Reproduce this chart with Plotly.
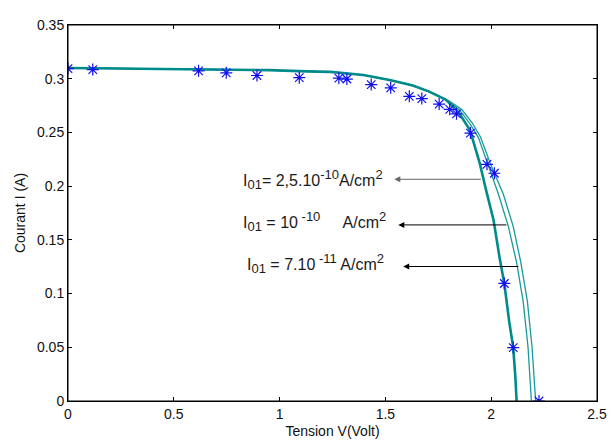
import plotly.graph_objects as go

# Measured points (blue asterisks)
meas_v = [0.0, 0.117, 0.617, 0.748, 0.893, 1.093, 1.28, 1.318, 1.433, 1.525, 1.613,
          1.672, 1.754, 1.804, 1.836, 1.902, 1.98, 2.015, 2.062, 2.104, 2.226]
meas_i = [0.3094, 0.3085, 0.3073, 0.3055, 0.303, 0.301, 0.3006, 0.2997, 0.2945, 0.2915,
          0.2836, 0.2815, 0.2764, 0.2715, 0.2673, 0.2494, 0.2203, 0.2120, 0.1094, 0.0497, 0.0]

# Common (overlapping) part of the three model curves
common_v = [0.0, 0.5, 0.95, 1.13, 1.24, 1.396, 1.52, 1.63, 1.707, 1.785]
common_i = [0.3100, 0.3093, 0.3080, 0.3068, 0.3064, 0.3034, 0.2988, 0.2936, 0.2880, 0.2806]

# Tails of each curve
thick_v = [1.847, 1.90, 1.945, 1.975, 2.011, 2.040, 2.062, 2.085, 2.104, 2.114, 2.12]
thick_i = [0.2685, 0.2520, 0.2220, 0.1970, 0.1685, 0.1330, 0.1094, 0.0740, 0.0497, 0.0230, 0.0]

inner_v = [1.80, 1.85, 1.90, 1.94, 1.985, 2.034, 2.081, 2.12, 2.151, 2.174, 2.19]
inner_i = [0.2790, 0.2710, 0.2580, 0.2450, 0.2200, 0.1927, 0.1625, 0.1290, 0.0927, 0.0503, 0.0]

outer_v = [1.80, 1.86, 1.91, 1.95, 1.998, 2.057, 2.104, 2.14, 2.171, 2.193, 2.21]
outer_i = [0.2795, 0.2715, 0.2590, 0.2455, 0.2200, 0.1927, 0.1625, 0.1290, 0.0927, 0.0503, 0.0]

x_ticks = [0, 0.5, 1, 1.5, 2, 2.5]
y_ticks = [0, 0.05, 0.1, 0.15, 0.2, 0.25, 0.3, 0.35]

S = "<span style='font-size:13px'>{}</span>"
labels = [
    "I<sub>" + S.format("01") + "</sub>= 2,5.10<sup>" + S.format("-10") + "</sup>A/cm<sup>" + S.format("2") + "</sup>",
    "I<sub>" + S.format("01") + "</sub> = 10<sup>" + S.format("&nbsp;-10") + "</sup>&nbsp;&nbsp;&nbsp;&nbsp;&nbsp;A/cm<sup>" + S.format("2") + "</sup>",
    "I<sub>" + S.format("01") + "</sub> = 7.10<sup>" + S.format("&nbsp;-11") + "</sup> A/cm<sup>" + S.format("2") + "</sup>",
]
label_pos = [(0.818, 0.206), (0.818, 0.167), (0.835, 0.128)]
arrow_head = [(1.542, 0.2064), (1.561, 0.1639), (1.584, 0.1252)]
arrow_tail = [(1.958, 0.2064), (2.079, 0.1639), (2.136, 0.1252)]
arrow_color = ["#666666", "#000000", "#000000"]

FONT = "Liberation Sans, Arial, sans-serif"
teal = "#008B8B"
blue = "#1010ee"
fig = go.Figure()
fig.add_trace(go.Scatter(x=common_v + outer_v, y=common_i + outer_i, mode="lines",
                         line=dict(color="#1a9a9a", width=1.3), showlegend=False))
fig.add_trace(go.Scatter(x=common_v + inner_v, y=common_i + inner_i, mode="lines",
                         line=dict(color="#1a9a9a", width=1.3), showlegend=False))
fig.add_trace(go.Scatter(x=common_v + thick_v, y=common_i + thick_i, mode="lines",
                         line=dict(color=teal, width=2.6), showlegend=False))
fig.add_trace(go.Scatter(x=meas_v, y=meas_i, mode="markers",
                         marker=dict(symbol="asterisk-open", size=10, color=blue,
                                     line=dict(color=blue, width=1.2)),
                         showlegend=False))

for txt, (lx, ly), (hx, hy), (tx, ty), col in zip(labels, label_pos, arrow_head, arrow_tail, arrow_color):
    fig.add_annotation(x=lx, y=ly, text=txt, showarrow=False, xanchor="left", yanchor="middle",
                       font=dict(family=FONT, size=16, color="#1a1a1a"))
    fig.add_annotation(x=hx, y=hy, ax=tx, ay=ty, xref="x", yref="y", axref="x", ayref="y",
                       text="", showarrow=True, arrowhead=2, arrowsize=1.2, arrowwidth=1,
                       arrowcolor=col)

axis_common = dict(showgrid=False, zeroline=False, showline=True, linecolor="black",
                   linewidth=1, mirror="ticks", ticks="inside", ticklen=4,
                   tickcolor="black",
                   tickfont=dict(family=FONT, size=14, color="#111"))
fig.update_xaxes(range=[0, 2.5], tickvals=x_ticks, ticktext=[f"{t:g}" for t in x_ticks],
                 title=dict(text="Tension V(Volt)", standoff=5,
                            font=dict(family=FONT, size=14, color="#111")),
                 **axis_common)
fig.update_yaxes(range=[0, 0.35], tickvals=y_ticks, ticktext=[f"{t:g}" for t in y_ticks],
                 title=dict(text="Courant I (A)", standoff=8,
                            font=dict(family=FONT, size=14, color="#111")),
                 **axis_common)
fig.add_shape(type="rect", xref="paper", yref="paper", x0=0, y0=0, x1=1, y1=1,
              line=dict(color="black", width=1), layer="above")
# page body has an 8px margin: shrink figure so the plot lands where the reference has it
fig.update_layout(width=608, height=438, plot_bgcolor="white", paper_bgcolor="white",
                  margin=dict(l=60, r=14, t=9, b=44))
fig.write_html("out.html")
